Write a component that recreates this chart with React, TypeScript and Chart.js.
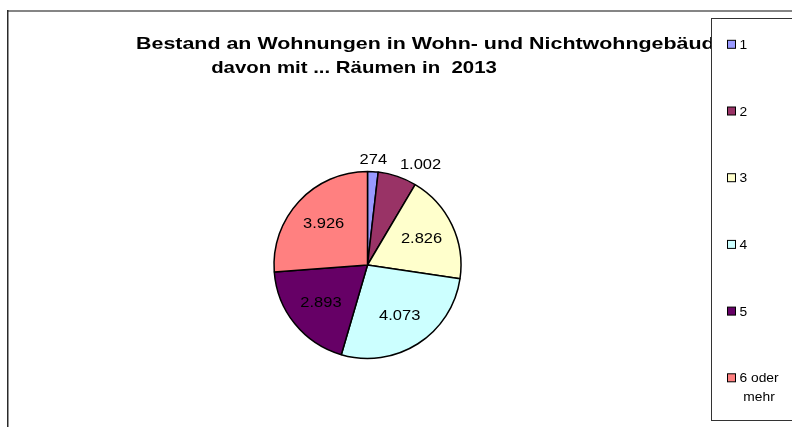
import React, { useEffect, useRef } from "react";
import { Chart, registerables } from "chart.js";

Chart.register(...registerables);

const categories = ["1", "2", "3", "4", "5", "6 oder mehr"];
const legendLines = [["1"], ["2"], ["3"], ["4"], ["5"], ["6 oder", "mehr"]];
const values = [274, 1002, 2826, 4073, 2893, 3926];
const colors = ["#9999FF", "#993366", "#FFFFCC", "#CCFFFF", "#660066", "#FF8080"];
const titleLines = ["Bestand an Wohnungen in Wohn- und Nichtwohngebäuden", "davon mit ... Räumen in  2013"];

const FONT = '"Liberation Sans", Arial, sans-serif';

function fmt(v: number): string {
  const s = String(Math.round(v));
  return s.replace(/\B(?=(\d{3})+(?!\d))/g, ".");
}

function drawText(ctx: CanvasRenderingContext2D, text: string, x: number, y: number, align: CanvasTextAlign, sx: number) {
  ctx.save();
  ctx.translate(x, y);
  ctx.scale(sx, 1);
  ctx.textAlign = align;
  ctx.fillText(text, 0, 0);
  ctx.restore();
}

const framePlugin = {
  id: "frame",
  beforeDraw(chart: any) {
    const ctx: CanvasRenderingContext2D = chart.ctx;
    ctx.save();
    ctx.fillStyle = "#ffffff";
    ctx.fillRect(0, 0, chart.width, chart.height);
    ctx.fillStyle = "#858585";
    ctx.fillRect(7, 10, chart.width - 7, 2);
    ctx.fillStyle = "#2a2a2a";
    ctx.fillRect(7, 10, 1.5, chart.height - 10);
    // title
    ctx.fillStyle = "#000000";
    ctx.font = `bold 17px ${FONT}`;
    ctx.textBaseline = "alphabetic";
    drawText(ctx, titleLines[0], 136, 49, "left", 1.26);
    drawText(ctx, titleLines[1], 354, 73, "center", 1.2);
    ctx.restore();
  },
  afterDraw(chart: any) {
    const ctx: CanvasRenderingContext2D = chart.ctx;
    ctx.save();
    // legend box
    ctx.fillStyle = "#ffffff";
    ctx.fillRect(711.5, 18.5, chart.width, 402);
    ctx.strokeStyle = "#333333";
    ctx.lineWidth = 1;
    ctx.strokeRect(711.5, 18.5, chart.width, 402);
    ctx.font = `12px ${FONT}`;
    ctx.textBaseline = "alphabetic";
    const ds = chart.data.datasets[0];
    const sx = 1.15;
    legendLines.forEach((lines, i) => {
      const cy = 44.3 + 66.7 * i;
      ctx.fillStyle = ds.backgroundColor[i];
      ctx.fillRect(727.5, cy - 4, 8, 8);
      ctx.strokeStyle = "#000000";
      ctx.lineWidth = 1;
      ctx.strokeRect(727.5, cy - 4, 8, 8);
      ctx.fillStyle = "#000000";
      drawText(ctx, lines[0], 739.5, cy + 4.5, "left", sx);
      if (lines.length > 1) {
        const w0 = ctx.measureText(lines[0]).width * sx;
        drawText(ctx, lines[1], 739.5 + w0 / 2, cy + 23, "center", sx);
      }
    });
    ctx.restore();
  },
};

const labelPlugin = {
  id: "sliceLabels",
  afterDatasetsDraw(chart: any) {
    const ctx: CanvasRenderingContext2D = chart.ctx;
    const meta = chart.getDatasetMeta(0);
    const data: number[] = chart.data.datasets[0].data;
    const total = data.reduce((a, b) => a + b, 0);
    ctx.save();
    ctx.fillStyle = "#000000";
    ctx.font = `15px ${FONT}`;
    const sx = 1.1;
    meta.data.forEach((arc: any, i: number) => {
      const { x, y, startAngle, endAngle, outerRadius } = arc.getProps(["x", "y", "startAngle", "endAngle", "outerRadius"], true);
      const mid = (startAngle + endAngle) / 2;
      const dx = Math.cos(mid);
      const dy = Math.sin(mid);
      const text = fmt(data[i]);
      if (data[i] / total < 0.08) {
        const r = outerRadius + 8;
        const px = x + dx * r;
        const py = y + dy * r;
        const align: CanvasTextAlign = Math.abs(dx) < 0.15 ? "center" : dx > 0 ? "left" : "right";
        ctx.textBaseline = "alphabetic";
        drawText(ctx, text, px, py, align, sx);
      } else {
        const r = outerRadius * 0.64;
        ctx.textBaseline = "middle";
        drawText(ctx, text, x + dx * r, y + dy * r, "center", sx);
      }
    });
    ctx.restore();
  },
};

export default function App() {
  const ref = useRef<HTMLCanvasElement | null>(null);
  useEffect(() => {
    if (!ref.current) return;
    const chart = new Chart(ref.current, {
      type: "pie",
      data: {
        labels: categories,
        datasets: [
          {
            data: values,
            backgroundColor: colors,
            borderColor: "#000000",
            borderWidth: 1.5,
          },
        ],
      },
      options: {
        responsive: false,
        animation: false,
        radius: 93.5,
        layout: { padding: { left: 217.5, right: 274.5, top: 155, bottom: 52 } },
        plugins: {
          legend: { display: false },
          title: { display: false },
          tooltip: { enabled: false },
        },
      } as any,
      plugins: [framePlugin, labelPlugin],
    });
    return () => chart.destroy();
  }, []);
  return (
    <div style={{ position: "fixed", left: 0, top: 0, width: 792, height: 427 }}>
      <canvas ref={ref} width={792} height={427} style={{ display: "block" }} />
    </div>
  );
}
